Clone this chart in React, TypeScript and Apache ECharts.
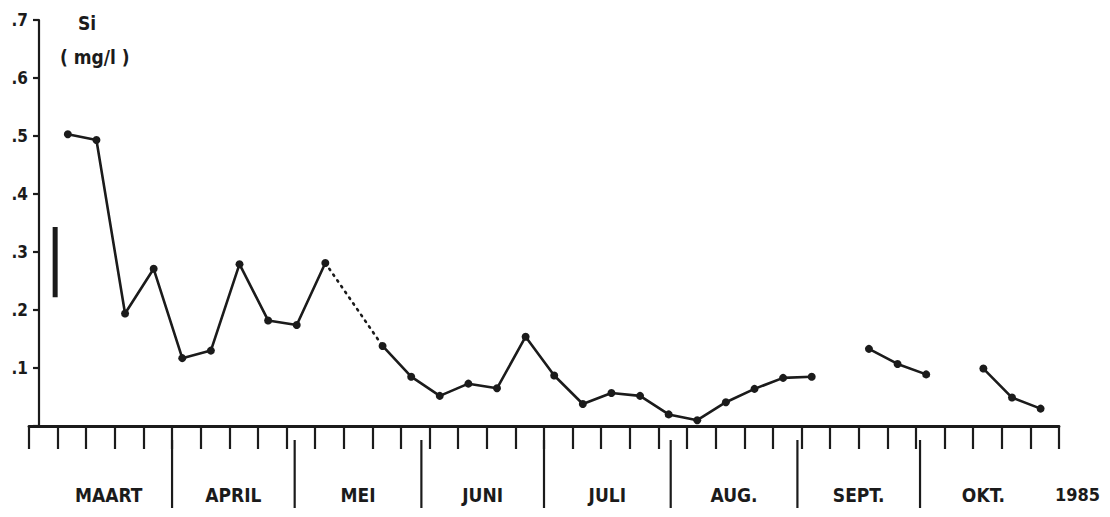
import { useEffect, useRef } from 'react';
import * as echarts from 'echarts';

// Weekly silica measurements, 1985 (mg/l)
const axisStart = '1985-02-25';
const axisEnd = '1985-11-04';

const sampleDates = [
  '1985-03-06', '1985-03-13', '1985-03-20', '1985-03-27', '1985-04-03',
  '1985-04-10', '1985-04-17', '1985-04-24', '1985-05-01', '1985-05-08',
  '1985-05-15', '1985-05-22', '1985-05-29', '1985-06-05', '1985-06-12',
  '1985-06-19', '1985-06-26', '1985-07-03', '1985-07-10', '1985-07-17',
  '1985-07-24', '1985-07-31', '1985-08-07', '1985-08-14', '1985-08-21',
  '1985-08-28', '1985-09-04', '1985-09-11', '1985-09-18', '1985-09-25',
  '1985-10-02', '1985-10-09', '1985-10-16', '1985-10-23', '1985-10-30',
];

const siValues: (number | null)[] = [
  0.503, 0.493, 0.194, 0.271, 0.117,
  0.130, 0.279, 0.182, 0.174, 0.281,
  null, 0.138, 0.085, 0.052, 0.073,
  0.065, 0.154, 0.087, 0.038, 0.057,
  0.052, 0.020, 0.010, 0.041, 0.064,
  0.083, 0.085, null, 0.133, 0.107,
  0.089, null, 0.099, 0.049, 0.030,
];

// the missing mid-May sample is bridged with a dotted line
const bridgedGap = ['1985-05-08', '1985-05-22'];

const monthBounds = [
  '1985-03-01', '1985-04-01', '1985-05-01', '1985-06-01', '1985-07-01',
  '1985-08-01', '1985-09-01', '1985-10-01', '1985-11-01',
];
const monthNames = ['MAART', 'APRIL', 'MEI', 'JUNI', 'JULI', 'AUG.', 'SEPT.', 'OKT.'];

// vertical range bar drawn beside the y axis
const rangeBarDay = 6.4;
const rangeBarSi = [0.222, 0.343];

const yMax = 0.7;
const yStep = 0.1;
const yearLabel = '1985';
const elementLabel = 'Si';
const unitLabel = '( mg/l )';

const ink = '#1b1b1b';
const font = "'DejaVu Sans Condensed', 'DejaVu Sans', sans-serif";

const dayOf = (d: string) => (Date.parse(d) - Date.parse(axisStart)) / 86400000;
const sampleDay = (d: string) => dayOf(d) + 0.5;

export default function App() {
  const ref = useRef<HTMLDivElement>(null);

  useEffect(() => {
    if (!ref.current) return;
    const chart = echarts.init(ref.current, null, { renderer: 'svg' });

    const lineData = sampleDates.map((d, i) => [sampleDay(d), siValues[i]]);
    const bridgeData = bridgedGap.map((d) => {
      const i = sampleDates.indexOf(d);
      return [sampleDay(d), siValues[i]];
    });
    const dividerData = monthBounds.slice(1, -1).map((d) => [dayOf(d), 0]);
    const monthLabelData = monthNames.map((_, i) => [
      (dayOf(monthBounds[i]) + dayOf(monthBounds[i + 1])) / 2,
      0,
    ]);

    chart.setOption({
      animation: false,
      backgroundColor: '#ffffff',
      grid: { left: 29, right: 51, top: 20, bottom: 91 },
      xAxis: {
        type: 'value',
        min: 0,
        max: dayOf(axisEnd),
        interval: 7,
        axisLine: { show: true, lineStyle: { color: ink, width: 2.8 } },
        axisTick: { show: true, length: 23, inside: false, lineStyle: { color: ink, width: 2.2 } },
        axisLabel: { show: false },
        splitLine: { show: false },
      },
      yAxis: {
        type: 'value',
        min: 0,
        max: yMax,
        interval: yStep,
        offset: -10,
        axisLine: { show: true, lineStyle: { color: ink, width: 2.2 } },
        axisTick: { show: true, length: 6, inside: false, lineStyle: { color: ink, width: 2.2 } },
        axisLabel: {
          margin: 11,
          color: ink,
          fontFamily: font,
          fontWeight: 'bold',
          fontSize: 17,
          formatter: (v: number) => (v === 0 ? '' : v.toFixed(1).replace(/^0/, '')),
        },
        splitLine: { show: false },
      },
      graphic: [
        {
          type: 'text',
          left: 78,
          top: 13,
          style: { text: elementLabel, fill: ink, font: `bold 19px ${font}` },
        },
        {
          type: 'text',
          left: 60,
          top: 47,
          style: { text: unitLabel, fill: ink, font: `bold 19px ${font}` },
        },
        {
          type: 'text',
          right: 10,
          top: 485,
          style: { text: yearLabel, fill: ink, font: `bold 18px ${font}` },
        },
      ],
      series: [
        {
          type: 'line',
          data: lineData,
          connectNulls: false,
          symbol: 'circle',
          symbolSize: 8,
          itemStyle: { color: ink },
          lineStyle: { color: ink, width: 2.6 },
          z: 3,
        },
        {
          type: 'line',
          data: bridgeData,
          symbol: 'none',
          lineStyle: { color: ink, width: 2.6, type: [1.5, 5.5], cap: 'round' },
          z: 2,
        },
        {
          type: 'line',
          data: [
            [rangeBarDay, rangeBarSi[0]],
            [rangeBarDay, rangeBarSi[1]],
          ],
          symbol: 'none',
          lineStyle: { color: ink, width: 5 },
          z: 2,
        },
        {
          type: 'custom',
          clip: false,
          data: dividerData,
          encode: { x: 0, y: 1 },
          renderItem: (_params: any, api: any) => {
            const p = api.coord([api.value(0), 0]);
            return {
              type: 'line',
              shape: { x1: p[0], y1: p[1] + 14, x2: p[0], y2: p[1] + 82 },
              style: { stroke: ink, lineWidth: 2.2 },
            };
          },
          z: 2,
        },
        {
          type: 'custom',
          clip: false,
          data: monthLabelData,
          encode: { x: 0, y: 1 },
          renderItem: (params: any, api: any) => {
            const p = api.coord([api.value(0), 0]);
            return {
              type: 'text',
              x: p[0],
              y: p[1] + 69,
              style: {
                text: monthNames[params.dataIndex],
                fill: ink,
                font: `bold 19px ${font}`,
                align: 'center',
                verticalAlign: 'middle',
              },
            };
          },
          z: 2,
        },
      ],
    });

    return () => chart.dispose();
  }, []);

  return (
    <div
      ref={ref}
      style={{ position: 'fixed', left: 0, top: 0, width: 1110, height: 517, background: '#fff' }}
    />
  );
}
